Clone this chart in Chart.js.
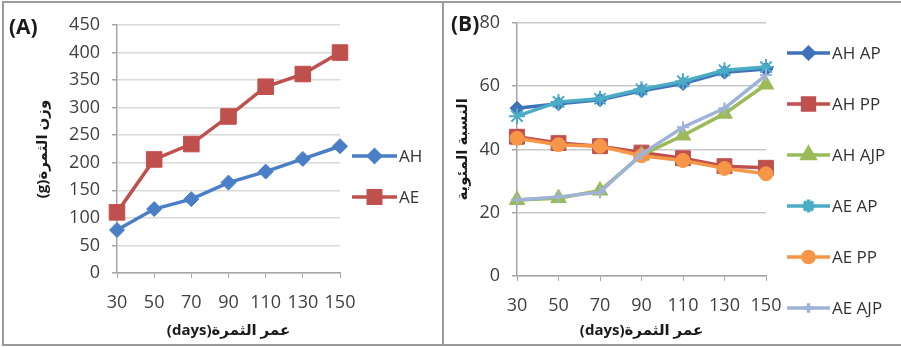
<!DOCTYPE html>
<html>
<head>
<meta charset="utf-8">
<script src="https://cdn.jsdelivr.net/npm/chart.js@4.4.1/dist/chart.umd.min.js"></script>
<style>
    body { margin: 0; background: #fff; width: 901px; height: 347px; position: relative; overflow: hidden; }
    .panel { position: absolute; top: 0; height: 347px; }
    #frame { position: absolute; left: 2px; top: 1px; width: 897px; height: 341px; border-top: 2px solid #9a9a9a; border-left: 2px solid #9a9a9a; border-bottom: 2px solid #9a9a9a; }
    #sep { position: absolute; left: 442px; top: 1px; width: 2px; height: 344px; background: #9a9a9a; }
    .tag { position: absolute; font: bold 21px 'Open Sans', sans-serif; color: #1a1a1a; }
</style>
</head>
<body>
<div id="frame"></div>
<div id="sep"></div>
<div class="panel" style="left:0;width:443px"><canvas id="chartA" width="443" height="347"></canvas></div>
<div class="panel" style="left:445px;width:456px"><canvas id="chartB" width="456" height="347"></canvas></div>
<div class="tag" style="left:9px;top:12px">(A)</div>
<div class="tag" style="left:451px;top:9px">(B)</div>
<script>
// Fruit age (days)
const days = [30, 50, 70, 90, 110, 130, 150];

// Panel A: fruit weight (g)
const ahWeight = [78, 116, 134, 164, 184, 207, 230];
const aeWeight = [110, 206, 234, 284, 338, 361, 400];

// Panel B: percentage
const ahAP  = [53, 54.4, 55.7, 58.5, 60.8, 64.4, 65.4];
const ahPP  = [44, 42, 41, 39, 37.2, 34.7, 34.2];
const ahAJP = [24, 24.6, 27, 38.2, 44.4, 51.3, 60.5];
const aeAP  = [50.5, 55, 56, 59, 61.5, 65, 66];
const aePP  = [43.5, 41.5, 41, 38, 36.5, 34, 32.3];
const aeAJP = [24, 25, 26.5, 38.5, 47, 53, 63.5];

const FONT = "'Open Sans', 'DejaVu Sans', sans-serif";
const TICK_COLOR = '#3f3f3f';

// legend drawn at the right side: line + marker + label
const sideLegend = {
    id: 'sideLegend',
    afterDraw(chart, args, opts) {
        const ctx = chart.ctx;
        chart.data.datasets.forEach((ds, i) => {
            const y = opts.top + i * opts.gap;
            ctx.save();
            ctx.strokeStyle = ds.borderColor;
            ctx.lineWidth = ds.borderWidth;
            ctx.beginPath();
            ctx.moveTo(opts.x, y);
            ctx.lineTo(opts.x + opts.len, y);
            ctx.stroke();
            ctx.fillStyle = ds.pointBackgroundColor;
            ctx.strokeStyle = ds.pointBorderColor;
            Chart.helpers.drawPoint(ctx, {
                pointStyle: ds.pointStyle,
                radius: ds.pointRadius * 0.8,
                borderWidth: ds.pointBorderWidth,
                rotation: 0
            }, opts.x + opts.len / 2, y);
            ctx.fillStyle = '#333333';
            ctx.font = '17px ' + FONT;
            ctx.textBaseline = 'middle';
            ctx.textAlign = 'left';
            ctx.fillText(ds.label, opts.x + opts.len + 2, y + 1);
            ctx.restore();
        });
    }
};

function series(label, data, color, style, radius, order) {
    const hollow = style === 'star' || style === 'cross';
    return {
        label, data, order,
        borderColor: color,
        borderWidth: 3.5,
        pointStyle: style,
        pointRadius: radius,
        pointBackgroundColor: color,
        pointBorderColor: color,
        pointBorderWidth: hollow ? 2 : 1,
        tension: 0
    };
}

function makeScales(o) {
    return {
        x: {
            type: 'category',
            offset: false,
            afterFit: s => { s.height = o.xHeight; },
            grid: { drawOnChartArea: false, drawTicks: true, tickLength: 5, tickColor: '#a6a6a6' },
            border: { color: '#a6a6a6', width: 1.5 },
            ticks: { color: TICK_COLOR, font: { family: FONT, size: 18 }, padding: 14, maxRotation: 0, autoSkip: false },
            title: { display: true, text: '(days)عمر الثمرة', color: '#1a1a1a', font: { family: FONT, size: 15, weight: 'bold' }, padding: { top: 0, bottom: 7 } }
        },
        y: {
            min: 0, max: o.max,
            afterFit: s => { s.width = o.yWidth; },
            grid: { color: o.gridColor, lineWidth: o.gridWidth, tickLength: 5, tickColor: '#a6a6a6' },
            border: { color: '#a6a6a6', width: 1.5 },
            ticks: { stepSize: o.step, color: TICK_COLOR, font: { family: FONT, size: 18 }, padding: 12 },
            title: { display: true, text: o.yTitle, color: '#1a1a1a', font: { family: FONT, size: 15, weight: 'bold' }, padding: { top: o.yTitlePad, bottom: 0 } }
        }
    };
}

new Chart(document.getElementById('chartA'), {
    type: 'line',
    data: {
        labels: days,
        datasets: [
            series('AH', ahWeight, '#4a7ec6', 'rectRot', 7.5, 2),
            series('AE', aeWeight, '#c0504d', 'rect', 11, 1)
        ]
    },
    options: {
        responsive: false,
        animation: false,
        layout: { padding: { top: 25, right: 103, left: 0, bottom: 0 } },
        plugins: {
            legend: { display: false },
            tooltip: { enabled: false },
            sideLegend: { x: 352, len: 45, top: 156, gap: 41 }
        },
        scales: makeScales({ max: 450, step: 50, xHeight: 74, yWidth: 117, yTitle: '(g)وزن الثمرة', yTitlePad: 34, gridColor: '#d9d9d9', gridWidth: 1.5 })
    },
    plugins: [sideLegend]
});

new Chart(document.getElementById('chartB'), {
    type: 'line',
    data: {
        labels: days,
        datasets: [
            series('AH AP', ahAP, '#3f72b8', 'rectRot', 7, 6),
            series('AH PP', ahPP, '#c0504d', 'rect', 10.5, 5),
            series('AH AJP', ahAJP, '#9bbb59', 'triangle', 9, 4),
            series('AE AP', aeAP, '#4bacc6', 'star', 8, 3),
            series('AE PP', aePP, '#f79646', 'circle', 7, 2),
            series('AE AJP', aeAJP, '#9fb3d9', 'cross', 6, 1)
        ]
    },
    options: {
        responsive: false,
        animation: false,
        layout: { padding: { top: 16, right: 135, left: 0, bottom: 0 } },
        plugins: {
            legend: { display: false },
            tooltip: { enabled: false },
            sideLegend: { x: 342, len: 43, top: 53, gap: 51 }
        },
        scales: makeScales({ max: 80, step: 20, xHeight: 71, yWidth: 72, yTitle: 'النسبة المئوية', yTitlePad: 9, gridColor: '#c8c8c8', gridWidth: 1.5 })
    },
    plugins: [sideLegend]
});
</script>
</body>
</html>
